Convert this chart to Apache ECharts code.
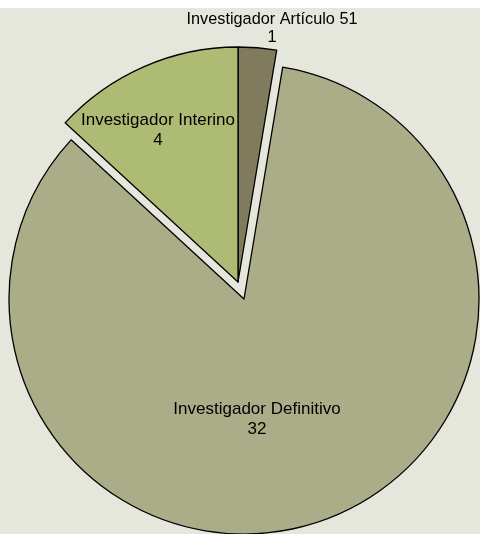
<!DOCTYPE html>
<html>
<head>
<meta charset="utf-8">
<script src="https://cdn.jsdelivr.net/npm/echarts@6/dist/echarts.min.js"></script>
<style>
html,body{margin:0;padding:0;background:#ffffff;}
#c{width:480px;height:534px;}
</style>
</head>
<body>
<div id="c"></div>
<script>
// slice sizes as drawn in the picture (slice angles), and the label texts as printed
var categories = ['Investigador Artículo 51', 'Investigador Definitivo', 'Investigador Interino'];
var values = [1, 32, 5];
var labelValues = ['1', '32', '4'];
var colors = ['#807B5D', '#AAAD87', '#AEBB74'];
var exploded = [false, true, false];
var labelPos = [[272, 29], [257, 419], [158, 130]];
var labelFont = [[16.3, 18], [17, 20], [17, 20]];

var chart = echarts.init(document.getElementById('c'), null, {renderer: 'canvas'});

function buildData(showExploded) {
  return categories.map(function (name, i) {
    var visible = exploded[i] === showExploded;
    return {
      name: name,
      value: values[i],
      itemStyle: visible
        ? {color: colors[i], borderColor: '#000', borderWidth: 1.3}
        : {color: 'rgba(0,0,0,0)', borderWidth: 0},
      label: {show: visible, fontSize: labelFont[i][0], lineHeight: labelFont[i][1]}
    };
  });
}

var common = {
  type: 'pie',
  radius: 235,
  startAngle: 90,
  clockwise: true,
  silent: true,
  emphasis: {disabled: true},
  label: {
    show: true,
    position: 'inside',
    formatter: function (p) { return p.name + '\n' + labelValues[p.dataIndex]; },
    color: '#000',
    fontFamily: 'Liberation Sans, Arial, sans-serif',
    fontSize: 17,
    lineHeight: 20,
    align: 'center'
  },
  labelLine: {show: false},
  labelLayout: function (p) {
    var pos = labelPos[p.dataIndex];
    return {x: pos[0], y: pos[1], align: 'center', verticalAlign: 'middle'};
  }
};

chart.setOption({
  backgroundColor: '#E6E7DC',
  animation: false,
  graphic: [{
    type: 'rect',
    z: 100,
    shape: {x: 0, y: 0, width: 480, height: 8},
    style: {fill: '#ffffff'}
  }],
  series: [
    Object.assign({}, common, {center: [244, 299], data: buildData(true)}),
    Object.assign({}, common, {center: [238, 282], data: buildData(false)})
  ]
});
</script>
</body>
</html>
